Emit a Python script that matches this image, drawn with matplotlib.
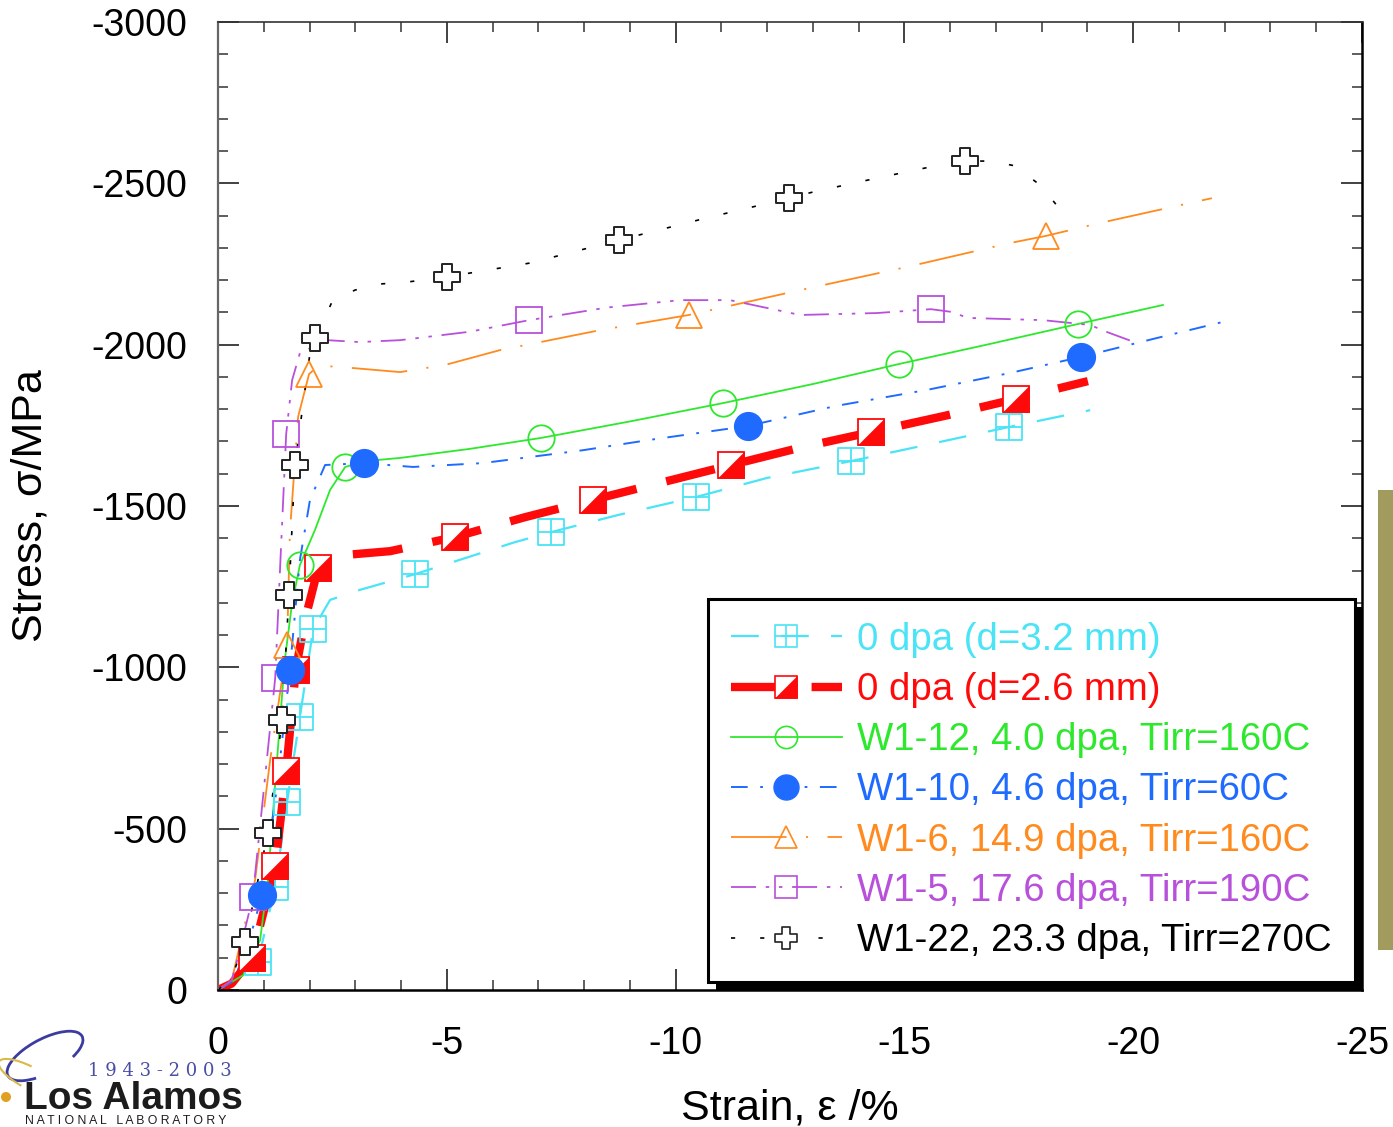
import matplotlib
matplotlib.use("Agg")
import matplotlib.pyplot as plt
from matplotlib.path import Path
from matplotlib.lines import Line2D
from matplotlib.patches import Rectangle, Arc, Circle
from matplotlib.transforms import IdentityTransform
from matplotlib.legend_handler import HandlerTuple

plt.rcParams['font.family'] = ['Liberation Sans', 'DejaVu Sans']
plt.rcParams['axes.unicode_minus'] = False
plt.rcParams['lines.scale_dashes'] = False

# stress-strain curves (compression: negative strain %, negative stress MPa)
d32_strain = [0, -0.3, -0.87, -1.25, -1.51, -1.79, -2.08, -2.45, -3.1, -4.31, -5.5, -6.49, -7.28,
              -8.74, -10.45, -12.0, -13.83, -15.5, -17.29, -19.06]
d32_stress = [0, -20, -87, -319, -583, -846, -1119, -1209, -1240, -1289, -1343, -1388, -1419,
              -1472, -1528, -1587, -1639, -1690, -1745, -1797]
d32_mk_strain = [-0.87, -1.25, -1.51, -1.79, -2.08, -4.31, -7.28, -10.45, -13.83, -17.29]
d32_mk_stress = [-87, -319, -583, -846, -1119, -1289, -1419, -1528, -1639, -1745]

d26_strain = [0, -0.3, -0.74, -1.25, -1.49, -1.70, -1.90, -2.19, -2.5, -3.76, -5.18, -6.7, -8.19,
              -9.7, -11.21, -12.7, -14.27, -15.9, -17.44, -19.01]
d26_stress = [0, -20, -99, -384, -679, -992, -1147, -1308, -1345, -1360, -1404, -1465, -1519,
              -1573, -1627, -1680, -1729, -1780, -1832, -1887]
d26_mk_strain = [-0.74, -1.25, -1.49, -1.70, -2.19, -5.18, -8.19, -11.21, -14.27, -17.44]
d26_mk_stress = [-99, -384, -679, -992, -1308, -1404, -1519, -1627, -1729, -1832]

w112_strain = [0, -0.3, -0.55, -0.92, -1.09, -1.29, -1.46, -1.62, -1.79, -2.12, -2.45, -2.78, -3.21,
               -3.98, -5.5, -7.06, -9.0, -11.04, -13.0, -14.88, -16.8, -18.79, -20.65]
w112_stress = [0, -25, -46, -155, -341, -713, -1023, -1200, -1317, -1426, -1550, -1621, -1639,
               -1649, -1677, -1711, -1762, -1819, -1878, -1940, -2000, -2064, -2123]
w112_mk_strain = [-1.79, -2.78, -7.06, -11.04, -14.88, -18.79]
w112_mk_stress = [-1317, -1621, -1711, -1819, -1940, -2064]

w110_strain = [0, -0.3, -0.6, -0.96, -1.3, -1.57, -1.79, -2.01, -2.34, -3.19, -4.26, -5.79, -7.98,
               -9.44, -11.58, -13.5, -15.5, -17.3, -18.86, -20.5, -22.12]
w110_stress = [0, -25, -110, -294, -640, -992, -1333, -1519, -1627, -1633, -1621, -1633, -1673,
               -1705, -1748, -1810, -1860, -1912, -1962, -2020, -2076]
w110_mk_strain = [-0.96, -1.57, -3.19, -11.58, -18.86]
w110_mk_stress = [-294, -992, -1633, -1748, -1962]

w16_strain = [0, -0.3, -0.81, -1.14, -1.51, -1.57, -1.75, -1.99, -2.2, -2.67, -3.98, -4.96, -6.16,
              -8.35, -10.29, -12.72, -15.06, -17.31, -18.09, -19.27, -21.72]
w16_stress = [0, -30, -341, -713, -1069, -1416, -1776, -1909, -1935, -1931, -1915, -1937, -1983,
              -2045, -2092, -2169, -2241, -2315, -2337, -2377, -2454]
w16_mk_strain = [-1.51, -1.99, -10.29, -18.09]
w16_mk_stress = [-1069, -1909, -2092, -2337]

w15_strain = [0, -0.3, -0.48, -0.76, -1.0, -1.25, -1.37, -1.49, -1.62, -1.79, -2.38, -3.1, -3.98,
              -5.5, -6.80, -8.5, -10.1, -11.19, -12.72, -14.4, -15.58, -16.06, -16.37, -18.03,
              -19.06, -19.43, -20.08]
w15_stress = [0, -30, -124, -288, -620, -967, -1350, -1723, -1890, -1974, -2014, -2008, -2014,
              -2040, -2076, -2115, -2138, -2138, -2092, -2098, -2110, -2101, -2083, -2076,
              -2061, -2039, -2005]
w15_mk_strain = [-0.76, -1.25, -1.49, -6.80, -15.58]
w15_mk_stress = [-288, -967, -1723, -2076, -2110]

w122_strain = [0, -0.3, -0.59, -1.09, -1.40, -1.55, -1.68, -2.01, -2.12, -2.49, -2.99, -3.54, -4.13,
               -5.0, -6.82, -8.76, -10.6, -12.48, -13.0, -14.1, -15.23, -15.78, -16.32, -16.91,
               -17.42, -17.96, -18.4]
w122_stress = [0, -40, -149, -487, -837, -1224, -1627, -1974, -2020, -2132, -2169, -2188, -2194,
               -2210, -2253, -2324, -2390, -2454, -2473, -2507, -2541, -2557, -2569, -2569,
               -2554, -2495, -2420]
w122_mk_strain = [-0.59, -1.09, -1.40, -1.55, -1.68, -2.12, -5.0, -8.76, -12.48, -16.32]
w122_mk_stress = [-149, -487, -837, -1224, -1627, -2020, -2210, -2324, -2454, -2569]

labels = ["0 dpa (d=3.2 mm)", "0 dpa (d=2.6 mm)", "W1-12, 4.0 dpa, Tirr=160C",
          "W1-10, 4.6 dpa, Tirr=60C", "W1-6, 14.9 dpa, Tirr=160C",
          "W1-5, 17.6 dpa, Tirr=190C", "W1-22, 23.3 dpa, Tirr=270C"]

CYAN = '#4ae4f6'
RED = '#ff0a0a'
GREEN = '#2ee82e'
BLUE = '#1f6bff'
ORANGE = '#ff8a1e'
PURPLE = '#b850dc'
BLACK = '#000000'

# custom marker shapes
sq_cross = Path([(-1, -1), (1, -1), (1, 1), (-1, 1), (-1, -1), (0, -1), (0, 1), (-1, 0), (1, 0)],
                [Path.MOVETO, Path.LINETO, Path.LINETO, Path.LINETO, Path.CLOSEPOLY,
                 Path.MOVETO, Path.LINETO, Path.MOVETO, Path.LINETO])
half_tri = Path([(-1, -1), (1, -1), (1, 1), (-1, -1)],
                [Path.MOVETO, Path.LINETO, Path.LINETO, Path.CLOSEPOLY])
a = 0.36
plus = Path([(-a, -1), (a, -1), (a, -a), (1, -a), (1, a), (a, a), (a, 1), (-a, 1), (-a, a),
             (-1, a), (-1, -a), (-a, -a), (-a, -1)],
            [Path.MOVETO] + [Path.LINETO] * 11 + [Path.CLOSEPOLY])

fig = plt.figure(figsize=(13.93, 11.27), dpi=100)
fig.patch.set_facecolor('white')
ax = fig.add_axes([218 / 1393, 137 / 1127, 1144 / 1393, 968 / 1127])
ax.patch.set_visible(False)

MS = 19
styles = dict(
    d32=dict(color=CYAN, lw=1.6, dashes=(20, 16)),
    d26=dict(color=RED, lw=6, dashes=(36, 22)),
    w112=dict(color=GREEN, lw=1.3, ls='-'),
    w110=dict(color=BLUE, lw=1.4, dashes=(12, 9, 2, 9)),
    w16=dict(color=ORANGE, lw=1.3, dashes=(40, 14, 1.5, 14)),
    w15=dict(color=PURPLE, lw=1.3, dashes=(18, 7, 2.5, 7, 2.5, 7)),
    w122=dict(color=BLACK, lw=1.2, dashes=(3, 18)),
)

ax.plot(d32_strain, d32_stress, zorder=2, **styles['d32'])
ax.plot(d26_strain, d26_stress, zorder=2, **styles['d26'])
ax.plot(w112_strain, w112_stress, zorder=2, **styles['w112'])
ax.plot(w110_strain, w110_stress, zorder=2, **styles['w110'])
ax.plot(w16_strain, w16_stress, zorder=2, **styles['w16'])
ax.plot(w15_strain, w15_stress, zorder=2, **styles['w15'])
ax.plot(w122_strain, w122_stress, zorder=2, **styles['w122'])

ax.plot(d32_mk_strain, d32_mk_stress, ls='none', marker=sq_cross, ms=MS, mfc='none',
        mec=CYAN, mew=1.3, zorder=3)
ax.plot(d26_mk_strain, d26_mk_stress, ls='none', marker='s', ms=MS, mfc='white',
        mec=RED, mew=1.3, zorder=3)
ax.plot(d26_mk_strain, d26_mk_stress, ls='none', marker=half_tri, ms=MS, mfc=RED,
        mec=RED, mew=0.5, zorder=3)
ax.plot(w112_mk_strain, w112_mk_stress, ls='none', marker='o', ms=MS, mfc='none',
        mec=GREEN, mew=1.3, zorder=3)
ax.plot(w16_mk_strain, w16_mk_stress, ls='none', marker='^', ms=MS, mfc='none',
        mec=ORANGE, mew=1.3, zorder=3)
ax.plot(w15_mk_strain, w15_mk_stress, ls='none', marker='s', ms=MS, mfc='none',
        mec=PURPLE, mew=1.3, zorder=3)
ax.plot(w122_mk_strain, w122_mk_stress, ls='none', marker=plus, ms=MS, mfc='white',
        mec='#222222', mew=1.4, zorder=3)
ax.plot(w110_mk_strain, w110_mk_stress, ls='none', marker='o', ms=MS + 1, mfc=BLUE,
        mec=BLUE, zorder=4)

ax.set_xlim(0, -25)
ax.set_ylim(0, -3000)
ax.set_xticks([0, -5, -10, -15, -20, -25])
ax.set_xticks(range(0, -26, -1), minor=True)
ax.set_yticks(range(0, -3001, -500))
ax.set_yticks(range(0, -3001, -100), minor=True)
ax.tick_params(which='both', direction='in', top=True, right=True, colors='#333333',
               labelcolor='black', labelsize=27)
ax.tick_params(which='major', length=15, width=1.3)
ax.tick_params(which='minor', length=7.5, width=1.1)
ax.tick_params(axis='y', pad=22)
ax.tick_params(axis='x', pad=26)
for side, col, w in [('left', '#666666', 1.6), ('top', '#333333', 1.2),
                     ('right', 'black', 1.8), ('bottom', 'black', 1.8)]:
    ax.spines[side].set_color(col)
    ax.spines[side].set_linewidth(w)

ax.set_xlabel("Strain, ε /%", fontsize=31)
ax.set_ylabel("Stress, σ/MPa", fontsize=31)
ax.xaxis.set_label_coords(0.5, -0.102)
ax.yaxis.set_label_coords(-0.146, 0.5)

# legend proxies
LMS = 16
h_d32 = Line2D([], [], marker=sq_cross, ms=LMS, mfc='none', mec=CYAN, mew=1.2, **styles['d32'])
h_d26 = (Line2D([], [], marker='s', ms=LMS, mfc='white', mec=RED, mew=1.2, **styles['d26']),
         Line2D([], [], ls='none', marker=half_tri, ms=LMS, mfc=RED, mec=RED, mew=0.5))
h_w112 = Line2D([], [], marker='o', ms=LMS, mfc='none', mec=GREEN, mew=1.2, **styles['w112'])
h_w110 = Line2D([], [], marker='o', ms=LMS + 2, mfc=BLUE, mec=BLUE, **styles['w110'])
h_w16 = Line2D([], [], marker='^', ms=LMS, mfc='none', mec=ORANGE, mew=1.2, **styles['w16'])
h_w15 = Line2D([], [], marker='s', ms=LMS, mfc='none', mec=PURPLE, mew=1.2, **styles['w15'])
h_w122 = Line2D([], [], marker=plus, ms=LMS, mfc='white', mec='#222222', mew=1.2, **styles['w122'])

leg = ax.legend([h_d32, h_d26, h_w112, h_w110, h_w16, h_w15, h_w122], labels,
                handler_map={tuple: HandlerTuple(ndivide=1)},
                loc='lower right', bbox_to_anchor=((1355 - 218) / 1144, 8 / 968),
                fontsize=27.6, frameon=True, fancybox=False, framealpha=1,
                edgecolor='black', handlelength=2.9, handletextpad=0.4,
                labelspacing=0.37, borderpad=0.6, borderaxespad=0)
leg.get_frame().set_linewidth(2.2)
leg.set_zorder(6)
for txt, col in zip(leg.get_texts(), [CYAN, RED, GREEN, BLUE, ORANGE, PURPLE, BLACK]):
    txt.set_color(col)

# drop shadow under the legend box
fig.canvas.draw()
bb = leg.get_window_extent()
ax.add_patch(Rectangle((bb.x0 + 8, bb.y0 - 8), bb.width, bb.height, transform=IdentityTransform(),
                       facecolor='black', edgecolor='none', zorder=5.5, clip_on=False))

# side bar
fig.patches.append(Rectangle((1378 / 1393, 177 / 1127), 15 / 1393, 460 / 1127,
                             transform=fig.transFigure, facecolor='#a19b5d', edgecolor='none'))

# lab logo
fig.text(88 / 1393, 1 - 1071 / 1127, "1 9 4 3 - 2 0 0 3", color='#4a4ea6', fontsize=13,
         family='DejaVu Serif', ha='left', va='center')
fig.text(24 / 1393, 1 - 1109 / 1127, "Los Alamos", color='#1c1c1c', fontsize=28,
         fontweight='bold', ha='left', va='baseline')
fig.text(25 / 1393, 1 - 1121 / 1127, "N A T I O N A L   L A B O R A T O R Y", color='#1c1c1c',
         fontsize=8.8, ha='left', va='center')
fig.patches.append(Arc((45, 1127 - 1056), 84, 34, angle=28, theta1=-30, theta2=220,
                       transform=IdentityTransform(), color='#3c3ca0', lw=2))
fig.patches.append(Arc((30, 1127 - 1078), 70, 22, angle=-28, theta1=110, theta2=250,
                       transform=IdentityTransform(), color='#d9b94a', lw=1.5))
fig.patches.append(Circle((6, 1127 - 1097), 5, transform=IdentityTransform(),
                          facecolor='#e0a020', edgecolor='none'))

fig.savefig("out.png", dpi=100)
